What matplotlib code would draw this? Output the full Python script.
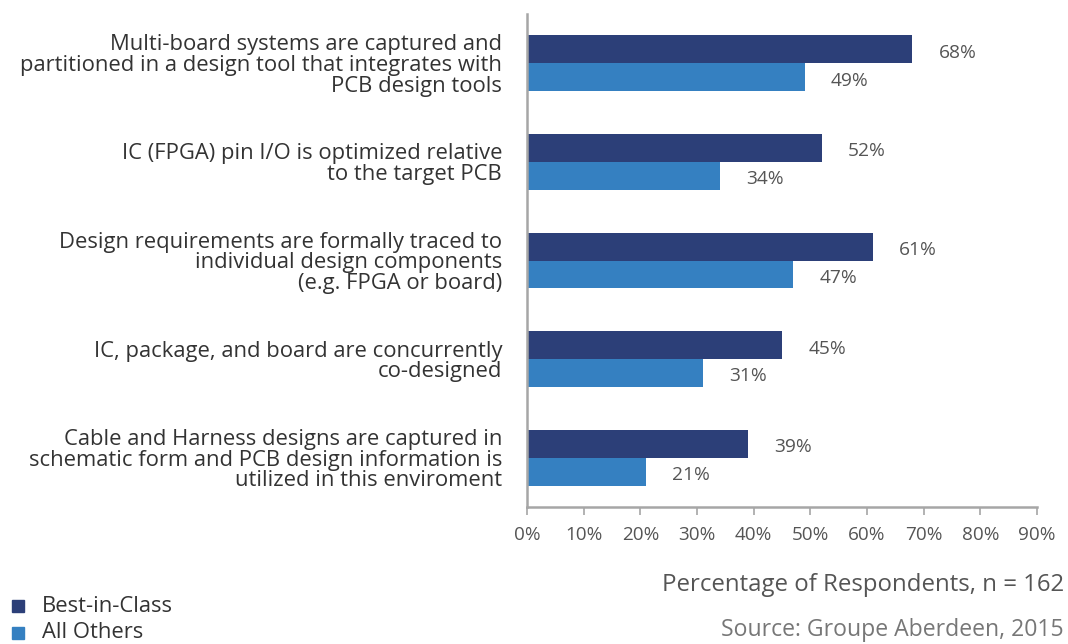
import matplotlib
matplotlib.use("Agg")
import matplotlib.pyplot as plt
from matplotlib.patches import Rectangle

plt.rcParams['font.family'] = ['Open Sans', 'DejaVu Sans']

categories = [
    "Multi-board systems are captured and\npartitioned in a design tool that integrates with\nPCB design tools",
    "IC (FPGA) pin I/O is optimized relative\nto the target PCB",
    "Design requirements are formally traced to\nindividual design components\n(e.g. FPGA or board)",
    "IC, package, and board are concurrently\nco-designed",
    "Cable and Harness designs are captured in\nschematic form and PCB design information is\nutilized in this enviroment",
]
best_in_class = [68, 52, 61, 45, 39]
all_others = [49, 34, 47, 31, 21]
series_names = ["Best-in-Class", "All Others"]
tick_values = [0, 10, 20, 30, 40, 50, 60, 70, 80, 90]

dark = "#2C3F78"
light = "#3580C1"
axis_grey = "#A6A6A6"
text_dark = "#333333"
text_mid = "#555555"

W, H = 1068, 644
fig = plt.figure(figsize=(W / 100, H / 100), dpi=100)
ax = fig.add_axes([527 / W, 1 - 507 / H, (1037 - 527) / W, (507 - 14) / H])

bar_h = 0.282
ys = list(range(len(categories)))
ax.barh([y - bar_h / 2 for y in ys], best_in_class, height=bar_h, color=dark, zorder=2)
ax.barh([y + bar_h / 2 for y in ys], all_others, height=bar_h, color=light, zorder=2)

for y, v in zip(ys, best_in_class):
    ax.annotate(f"{v}%", (v, y - bar_h / 2), xytext=(19, -2.5), textcoords="offset points",
                ha="left", va="center", fontsize=13.8, color=text_mid)
for y, v in zip(ys, all_others):
    ax.annotate(f"{v}%", (v, y + bar_h / 2), xytext=(19, -2.5), textcoords="offset points",
                ha="left", va="center", fontsize=13.8, color=text_mid)

ax.set_xlim(0, 90)
ax.set_ylim(4.5, -0.5)
ax.set_xticks(tick_values)
ax.set_xticklabels([f"{t}%" for t in tick_values])
ax.set_yticks(ys)
ax.set_yticklabels(categories, fontsize=15.8, color=text_dark, linespacing=0.98)
ax.tick_params(axis="y", length=0, pad=18)
ax.tick_params(axis="x", length=6, width=1.2, color=axis_grey, labelsize=13.6,
               labelcolor=text_mid, pad=8)
for side in ("top", "right"):
    ax.spines[side].set_visible(False)
for side in ("left", "bottom"):
    ax.spines[side].set_color(axis_grey)
    ax.spines[side].set_linewidth(1.8)

fig.text(1064 / W, 1 - 585 / H, "Percentage of Respondents, n = 162", ha="right", va="center",
         fontsize=17.3, color=text_mid)
fig.text(1064 / W, 2 / H, "Source: Groupe Aberdeen, 2015", ha="right", va="bottom",
         fontsize=16.6, color="#777777")

# legend drawn as squares and labels in the lower-left corner
for i, (name, col) in enumerate(zip(series_names, [dark, light])):
    yc = 606 + i * 27
    fig.patches.append(Rectangle((12 / W, 1 - (yc + 6) / H), 12 / W, 12 / H,
                                 transform=fig.transFigure, color=col))
    fig.text(42 / W, 1 - yc / H, name, ha="left", va="center", fontsize=15.8, color=text_dark)

fig.savefig("out.png", dpi=100)
